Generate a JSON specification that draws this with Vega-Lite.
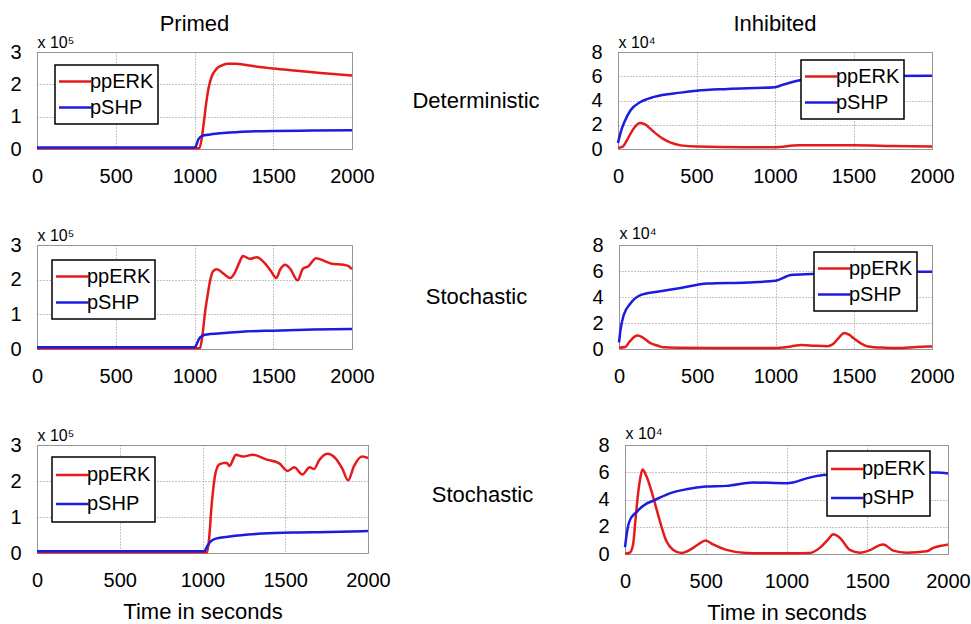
{
  "$schema": "https://vega.github.io/schema/vega-lite/v6.json",
  "padding": {"left": 9, "top": 12, "right": 0, "bottom": 0},
  "background": "white",
  "spacing": 37,
  "config": {
    "font": "Liberation Sans",
    "view": {"stroke": "#9a9a9a", "strokeWidth": 1},
    "axis": {
      "grid": true, "gridDash": [1, 2], "gridColor": "#8a8a8a", "gridOpacity": 1,
      "domain": false, "ticks": false, "format": "d",
      "labelFontSize": 20, "labelColor": "#000", "labelFlush": false, "labelOverlap": false, "labelBound": false,
      "titleColor": "#000", "titleFontWeight": "normal"
    },
    "axisX": {"labelPadding": 17, "titleFontSize": 22, "titlePadding": 11},
    "axisY": {"labelPadding": 16, "titleAngle": 0, "titleAlign": "left", "titleBaseline": "alphabetic", "titleX": 0, "titleY": -5, "titleFontSize": 16},
    "legend": {
      "orient": "none", "symbolType": "stroke", "symbolSize": 1089, "symbolStrokeWidth": 2.5, "symbolOffset": -2,
      "labelFontSize": 20, "labelColor": "#000", "labelOffset": -3, "padding": 4,
      "strokeColor": "#000", "strokeWidth": 1.5, "fillColor": "#fff", "clipHeight": 25, "rowPadding": 1
    },
    "title": {"fontSize": 22, "fontWeight": "normal", "color": "#000", "frame": "group", "offset": -2, "anchor": "middle"}
  },
  "resolve": {"scale": {"color": "independent", "x": "independent", "y": "independent"}, "legend": {"color": "independent"}},
  "data": {"values": [
    {"panel":"A","series":"ppERK","t":0,"v":0.02},{"panel":"A","series":"ppERK","t":1000,"v":0.02},{"panel":"A","series":"ppERK","t":1030,"v":0.02},{"panel":"A","series":"ppERK","t":1045,"v":0.3},{"panel":"A","series":"ppERK","t":1060,"v":0.85},{"panel":"A","series":"ppERK","t":1075,"v":1.45},{"panel":"A","series":"ppERK","t":1090,"v":1.9},{"panel":"A","series":"ppERK","t":1110,"v":2.25},{"panel":"A","series":"ppERK","t":1140,"v":2.48},{"panel":"A","series":"ppERK","t":1170,"v":2.58},{"panel":"A","series":"ppERK","t":1210,"v":2.64},{"panel":"A","series":"ppERK","t":1260,"v":2.64},{"panel":"A","series":"ppERK","t":1350,"v":2.58},{"panel":"A","series":"ppERK","t":1500,"v":2.49},{"panel":"A","series":"ppERK","t":1650,"v":2.42},{"panel":"A","series":"ppERK","t":1800,"v":2.35},{"panel":"A","series":"ppERK","t":2000,"v":2.27},
    {"panel":"A","series":"pSHP","t":0,"v":0.05},{"panel":"A","series":"pSHP","t":1000,"v":0.05},{"panel":"A","series":"pSHP","t":1010,"v":0.1},{"panel":"A","series":"pSHP","t":1025,"v":0.3},{"panel":"A","series":"pSHP","t":1045,"v":0.4},{"panel":"A","series":"pSHP","t":1100,"v":0.45},{"panel":"A","series":"pSHP","t":1200,"v":0.5},{"panel":"A","series":"pSHP","t":1350,"v":0.54},{"panel":"A","series":"pSHP","t":1500,"v":0.56},{"panel":"A","series":"pSHP","t":1750,"v":0.57},{"panel":"A","series":"pSHP","t":2000,"v":0.58},
    {"panel":"B","series":"ppERK","t":0,"v":0.1},{"panel":"B","series":"ppERK","t":30,"v":0.2},{"panel":"B","series":"ppERK","t":60,"v":0.8},{"panel":"B","series":"ppERK","t":100,"v":1.7},{"panel":"B","series":"ppERK","t":140,"v":2.15},{"panel":"B","series":"ppERK","t":170,"v":2.05},{"panel":"B","series":"ppERK","t":220,"v":1.5},{"panel":"B","series":"ppERK","t":280,"v":0.9},{"panel":"B","series":"ppERK","t":340,"v":0.5},{"panel":"B","series":"ppERK","t":400,"v":0.3},{"panel":"B","series":"ppERK","t":500,"v":0.2},{"panel":"B","series":"ppERK","t":800,"v":0.15},{"panel":"B","series":"ppERK","t":1000,"v":0.15},{"panel":"B","series":"ppERK","t":1150,"v":0.3},{"panel":"B","series":"ppERK","t":1500,"v":0.3},{"panel":"B","series":"ppERK","t":1750,"v":0.25},{"panel":"B","series":"ppERK","t":2000,"v":0.2},
    {"panel":"B","series":"pSHP","t":0,"v":0.5},{"panel":"B","series":"pSHP","t":20,"v":1.5},{"panel":"B","series":"pSHP","t":40,"v":2.2},{"panel":"B","series":"pSHP","t":80,"v":3.2},{"panel":"B","series":"pSHP","t":140,"v":3.85},{"panel":"B","series":"pSHP","t":230,"v":4.3},{"panel":"B","series":"pSHP","t":400,"v":4.65},{"panel":"B","series":"pSHP","t":500,"v":4.8},{"panel":"B","series":"pSHP","t":700,"v":4.95},{"panel":"B","series":"pSHP","t":1000,"v":5.1},{"panel":"B","series":"pSHP","t":1050,"v":5.3},{"panel":"B","series":"pSHP","t":1150,"v":5.65},{"panel":"B","series":"pSHP","t":1250,"v":5.9},{"panel":"B","series":"pSHP","t":1400,"v":6.0},{"panel":"B","series":"pSHP","t":1700,"v":6.02},{"panel":"B","series":"pSHP","t":2000,"v":6.05},
    {"panel":"C","series":"ppERK","t":0,"v":0.02},{"panel":"C","series":"ppERK","t":1000,"v":0.02},{"panel":"C","series":"ppERK","t":1035,"v":0.02},{"panel":"C","series":"ppERK","t":1050,"v":0.4},{"panel":"C","series":"ppERK","t":1070,"v":1.16},{"panel":"C","series":"ppERK","t":1085,"v":1.6},{"panel":"C","series":"ppERK","t":1100,"v":1.99},{"panel":"C","series":"ppERK","t":1117,"v":2.24},{"panel":"C","series":"ppERK","t":1142,"v":2.3},{"panel":"C","series":"ppERK","t":1185,"v":2.17},{"panel":"C","series":"ppERK","t":1227,"v":2.05},{"panel":"C","series":"ppERK","t":1258,"v":2.22},{"panel":"C","series":"ppERK","t":1285,"v":2.5},{"panel":"C","series":"ppERK","t":1307,"v":2.68},{"panel":"C","series":"ppERK","t":1354,"v":2.6},{"panel":"C","series":"ppERK","t":1396,"v":2.65},{"panel":"C","series":"ppERK","t":1449,"v":2.46},{"panel":"C","series":"ppERK","t":1485,"v":2.25},{"panel":"C","series":"ppERK","t":1519,"v":2.05},{"panel":"C","series":"ppERK","t":1545,"v":2.3},{"panel":"C","series":"ppERK","t":1576,"v":2.43},{"panel":"C","series":"ppERK","t":1608,"v":2.31},{"panel":"C","series":"ppERK","t":1655,"v":1.98},{"panel":"C","series":"ppERK","t":1688,"v":2.31},{"panel":"C","series":"ppERK","t":1723,"v":2.39},{"panel":"C","series":"ppERK","t":1772,"v":2.62},{"panel":"C","series":"ppERK","t":1819,"v":2.55},{"panel":"C","series":"ppERK","t":1872,"v":2.46},{"panel":"C","series":"ppERK","t":1946,"v":2.43},{"panel":"C","series":"ppERK","t":1975,"v":2.4},{"panel":"C","series":"ppERK","t":2000,"v":2.3},
    {"panel":"C","series":"pSHP","t":0,"v":0.05},{"panel":"C","series":"pSHP","t":1000,"v":0.05},{"panel":"C","series":"pSHP","t":1015,"v":0.15},{"panel":"C","series":"pSHP","t":1030,"v":0.3},{"panel":"C","series":"pSHP","t":1050,"v":0.38},{"panel":"C","series":"pSHP","t":1080,"v":0.42},{"panel":"C","series":"pSHP","t":1150,"v":0.45},{"panel":"C","series":"pSHP","t":1300,"v":0.5},{"panel":"C","series":"pSHP","t":1500,"v":0.53},{"panel":"C","series":"pSHP","t":1750,"v":0.56},{"panel":"C","series":"pSHP","t":2000,"v":0.58},
    {"panel":"D","series":"ppERK","t":0,"v":0.1},{"panel":"D","series":"ppERK","t":40,"v":0.15},{"panel":"D","series":"ppERK","t":70,"v":0.6},{"panel":"D","series":"ppERK","t":100,"v":0.95},{"panel":"D","series":"ppERK","t":120,"v":1.04},{"panel":"D","series":"ppERK","t":150,"v":0.9},{"panel":"D","series":"ppERK","t":201,"v":0.45},{"panel":"D","series":"ppERK","t":250,"v":0.25},{"panel":"D","series":"ppERK","t":286,"v":0.13},{"panel":"D","series":"ppERK","t":400,"v":0.1},{"panel":"D","series":"ppERK","t":600,"v":0.08},{"panel":"D","series":"ppERK","t":1000,"v":0.08},{"panel":"D","series":"ppERK","t":1100,"v":0.2},{"panel":"D","series":"ppERK","t":1163,"v":0.3},{"panel":"D","series":"ppERK","t":1250,"v":0.25},{"panel":"D","series":"ppERK","t":1333,"v":0.22},{"panel":"D","series":"ppERK","t":1370,"v":0.4},{"panel":"D","series":"ppERK","t":1400,"v":0.8},{"panel":"D","series":"ppERK","t":1440,"v":1.24},{"panel":"D","series":"ppERK","t":1470,"v":1.1},{"panel":"D","series":"ppERK","t":1504,"v":0.78},{"panel":"D","series":"ppERK","t":1550,"v":0.4},{"panel":"D","series":"ppERK","t":1590,"v":0.2},{"panel":"D","series":"ppERK","t":1700,"v":0.1},{"panel":"D","series":"ppERK","t":1780,"v":0.07},{"panel":"D","series":"ppERK","t":1900,"v":0.15},{"panel":"D","series":"ppERK","t":2000,"v":0.2},
    {"panel":"D","series":"pSHP","t":0,"v":0.5},{"panel":"D","series":"pSHP","t":10,"v":1.5},{"panel":"D","series":"pSHP","t":30,"v":2.6},{"panel":"D","series":"pSHP","t":73,"v":3.5},{"panel":"D","series":"pSHP","t":137,"v":4.14},{"panel":"D","series":"pSHP","t":244,"v":4.4},{"panel":"D","series":"pSHP","t":394,"v":4.7},{"panel":"D","series":"pSHP","t":564,"v":5.04},{"panel":"D","series":"pSHP","t":821,"v":5.12},{"panel":"D","series":"pSHP","t":1000,"v":5.25},{"panel":"D","series":"pSHP","t":1099,"v":5.69},{"panel":"D","series":"pSHP","t":1227,"v":5.77},{"panel":"D","series":"pSHP","t":1400,"v":5.85},{"panel":"D","series":"pSHP","t":1700,"v":5.95},{"panel":"D","series":"pSHP","t":2000,"v":5.95},
    {"panel":"E","series":"ppERK","t":0,"v":0.02},{"panel":"E","series":"ppERK","t":1000,"v":0.02},{"panel":"E","series":"ppERK","t":1028,"v":0.02},{"panel":"E","series":"ppERK","t":1040,"v":0.4},{"panel":"E","series":"ppERK","t":1054,"v":1.26},{"panel":"E","series":"ppERK","t":1068,"v":1.9},{"panel":"E","series":"ppERK","t":1080,"v":2.25},{"panel":"E","series":"ppERK","t":1104,"v":2.47},{"panel":"E","series":"ppERK","t":1144,"v":2.51},{"panel":"E","series":"ppERK","t":1164,"v":2.42},{"panel":"E","series":"ppERK","t":1185,"v":2.6},{"panel":"E","series":"ppERK","t":1200,"v":2.73},{"panel":"E","series":"ppERK","t":1244,"v":2.68},{"panel":"E","series":"ppERK","t":1304,"v":2.73},{"panel":"E","series":"ppERK","t":1384,"v":2.6},{"panel":"E","series":"ppERK","t":1464,"v":2.49},{"panel":"E","series":"ppERK","t":1514,"v":2.28},{"panel":"E","series":"ppERK","t":1554,"v":2.38},{"panel":"E","series":"ppERK","t":1604,"v":2.18},{"panel":"E","series":"ppERK","t":1648,"v":2.38},{"panel":"E","series":"ppERK","t":1674,"v":2.33},{"panel":"E","series":"ppERK","t":1704,"v":2.57},{"panel":"E","series":"ppERK","t":1754,"v":2.76},{"panel":"E","series":"ppERK","t":1804,"v":2.63},{"panel":"E","series":"ppERK","t":1844,"v":2.35},{"panel":"E","series":"ppERK","t":1880,"v":2.02},{"panel":"E","series":"ppERK","t":1914,"v":2.4},{"panel":"E","series":"ppERK","t":1964,"v":2.68},{"panel":"E","series":"ppERK","t":2000,"v":2.64},
    {"panel":"E","series":"pSHP","t":0,"v":0.05},{"panel":"E","series":"pSHP","t":1010,"v":0.05},{"panel":"E","series":"pSHP","t":1030,"v":0.2},{"panel":"E","series":"pSHP","t":1050,"v":0.32},{"panel":"E","series":"pSHP","t":1080,"v":0.4},{"panel":"E","series":"pSHP","t":1164,"v":0.46},{"panel":"E","series":"pSHP","t":1364,"v":0.54},{"panel":"E","series":"pSHP","t":1564,"v":0.57},{"panel":"E","series":"pSHP","t":1764,"v":0.58},{"panel":"E","series":"pSHP","t":2000,"v":0.61},
    {"panel":"F","series":"ppERK","t":0,"v":0.02},{"panel":"F","series":"ppERK","t":30,"v":0.1},{"panel":"F","series":"ppERK","t":50,"v":0.7},{"panel":"F","series":"ppERK","t":65,"v":2.5},{"panel":"F","series":"ppERK","t":81,"v":4.45},{"panel":"F","series":"ppERK","t":95,"v":5.6},{"panel":"F","series":"ppERK","t":108,"v":6.2},{"panel":"F","series":"ppERK","t":133,"v":5.7},{"panel":"F","series":"ppERK","t":174,"v":4.2},{"panel":"F","series":"ppERK","t":215,"v":2.45},{"panel":"F","series":"ppERK","t":256,"v":0.95},{"panel":"F","series":"ppERK","t":297,"v":0.32},{"panel":"F","series":"ppERK","t":349,"v":0.08},{"panel":"F","series":"ppERK","t":401,"v":0.3},{"panel":"F","series":"ppERK","t":452,"v":0.7},{"panel":"F","series":"ppERK","t":500,"v":1.0},{"panel":"F","series":"ppERK","t":545,"v":0.7},{"panel":"F","series":"ppERK","t":628,"v":0.3},{"panel":"F","series":"ppERK","t":752,"v":0.08},{"panel":"F","series":"ppERK","t":1000,"v":0.05},{"panel":"F","series":"ppERK","t":1144,"v":0.08},{"panel":"F","series":"ppERK","t":1206,"v":0.45},{"panel":"F","series":"ppERK","t":1260,"v":1.1},{"panel":"F","series":"ppERK","t":1289,"v":1.45},{"panel":"F","series":"ppERK","t":1330,"v":1.2},{"panel":"F","series":"ppERK","t":1392,"v":0.3},{"panel":"F","series":"ppERK","t":1454,"v":0.1},{"panel":"F","series":"ppERK","t":1520,"v":0.3},{"panel":"F","series":"ppERK","t":1567,"v":0.6},{"panel":"F","series":"ppERK","t":1599,"v":0.7},{"panel":"F","series":"ppERK","t":1661,"v":0.25},{"panel":"F","series":"ppERK","t":1744,"v":0.1},{"panel":"F","series":"ppERK","t":1868,"v":0.2},{"panel":"F","series":"ppERK","t":1909,"v":0.45},{"panel":"F","series":"ppERK","t":1981,"v":0.65},{"panel":"F","series":"ppERK","t":2000,"v":0.7},
    {"panel":"F","series":"pSHP","t":0,"v":0.5},{"panel":"F","series":"pSHP","t":15,"v":1.8},{"panel":"F","series":"pSHP","t":29,"v":2.45},{"panel":"F","series":"pSHP","t":71,"v":3.08},{"panel":"F","series":"pSHP","t":133,"v":3.7},{"panel":"F","series":"pSHP","t":174,"v":3.9},{"panel":"F","series":"pSHP","t":277,"v":4.45},{"panel":"F","series":"pSHP","t":380,"v":4.75},{"panel":"F","series":"pSHP","t":500,"v":4.95},{"panel":"F","series":"pSHP","t":628,"v":5.0},{"panel":"F","series":"pSHP","t":793,"v":5.25},{"panel":"F","series":"pSHP","t":1000,"v":5.2},{"panel":"F","series":"pSHP","t":1041,"v":5.25},{"panel":"F","series":"pSHP","t":1124,"v":5.55},{"panel":"F","series":"pSHP","t":1227,"v":5.8},{"panel":"F","series":"pSHP","t":1400,"v":5.9},{"panel":"F","series":"pSHP","t":1700,"v":5.95},{"panel":"F","series":"pSHP","t":1929,"v":5.98},{"panel":"F","series":"pSHP","t":2000,"v":5.9}
  ]},
  "vconcat": [
    {
      "bounds": "flush", "spacing": 40,
      "resolve": {"scale": {"color": "independent", "x": "independent", "y": "independent"}, "legend": {"color": "independent"}},
      "hconcat": [
        {
          "width": 315, "height": 97,
          "title": {"text": "Primed"},
          "transform": [{"filter": "datum.panel == 'A'"}],
          "mark": {"type": "line", "strokeWidth": 2.5, "interpolate": "monotone"},
          "encoding": {
            "x": {"field": "t", "type": "quantitative", "scale": {"domain": [0, 2000], "nice": false}, "axis": {"values": [0, 500, 1000, 1500, 2000], "title": null}},
            "y": {"field": "v", "type": "quantitative", "scale": {"domain": [0, 3], "nice": false}, "axis": {"values": [0, 1, 2, 3], "title": "x 10⁵"}},
            "color": {"field": "series", "type": "nominal", "scale": {"domain": ["ppERK", "pSHP"], "range": ["#e51b1b", "#1c1ce0"]}, "legend": {"title": null, "legendX": 18, "legendY": 13}}
          }
        },
        {
          "width": 186, "height": 97, "view": {"stroke": null},
          "data": {"values": [{"label": "Deterministic"}]},
          "mark": {"type": "text", "fontSize": 22, "dx": -9},
          "encoding": {"text": {"field": "label"}}
        },
        {
          "width": 314, "height": 97,
          "title": {"text": "Inhibited"},
          "transform": [{"filter": "datum.panel == 'B'"}],
          "mark": {"type": "line", "strokeWidth": 2.5, "interpolate": "monotone"},
          "encoding": {
            "x": {"field": "t", "type": "quantitative", "scale": {"domain": [0, 2000], "nice": false}, "axis": {"values": [0, 500, 1000, 1500, 2000], "title": null}},
            "y": {"field": "v", "type": "quantitative", "scale": {"domain": [0, 8], "nice": false}, "axis": {"values": [0, 2, 4, 6, 8], "title": "x 10⁴"}},
            "color": {"field": "series", "type": "nominal", "scale": {"domain": ["ppERK", "pSHP"], "range": ["#e51b1b", "#1c1ce0"]}, "legend": {"title": null, "legendX": 183, "legendY": 8}}
          }
        }
      ]
    },
    {
      "bounds": "flush", "spacing": 40,
      "resolve": {"scale": {"color": "independent", "x": "independent", "y": "independent"}, "legend": {"color": "independent"}},
      "hconcat": [
        {
          "width": 315, "height": 104,
          "transform": [{"filter": "datum.panel == 'C'"}],
          "mark": {"type": "line", "strokeWidth": 2.5, "interpolate": "monotone"},
          "encoding": {
            "x": {"field": "t", "type": "quantitative", "scale": {"domain": [0, 2000], "nice": false}, "axis": {"values": [0, 500, 1000, 1500, 2000], "title": null}},
            "y": {"field": "v", "type": "quantitative", "scale": {"domain": [0, 3], "nice": false}, "axis": {"values": [0, 1, 2, 3], "title": "x 10⁵"}},
            "color": {"field": "series", "type": "nominal", "scale": {"domain": ["ppERK", "pSHP"], "range": ["#e51b1b", "#1c1ce0"]}, "legend": {"title": null, "legendX": 15, "legendY": 15}}
          }
        },
        {
          "width": 187, "height": 104, "view": {"stroke": null},
          "data": {"values": [{"label": "Stochastic"}]},
          "mark": {"type": "text", "fontSize": 22, "dx": -9},
          "encoding": {"text": {"field": "label"}}
        },
        {
          "width": 313, "height": 104,
          "transform": [{"filter": "datum.panel == 'D'"}],
          "mark": {"type": "line", "strokeWidth": 2.5, "interpolate": "monotone"},
          "encoding": {
            "x": {"field": "t", "type": "quantitative", "scale": {"domain": [0, 2000], "nice": false}, "axis": {"values": [0, 500, 1000, 1500, 2000], "title": null}},
            "y": {"field": "v", "type": "quantitative", "scale": {"domain": [0, 8], "nice": false}, "axis": {"values": [0, 2, 4, 6, 8], "title": "x 10⁴", "titleY": -7}},
            "color": {"field": "series", "type": "nominal", "scale": {"domain": ["ppERK", "pSHP"], "range": ["#e51b1b", "#1c1ce0"]}, "legend": {"title": null, "legendX": 195, "legendY": 7}}
          }
        }
      ]
    },
    {
      "bounds": "flush", "spacing": 40,
      "resolve": {"scale": {"color": "independent", "x": "independent", "y": "independent"}, "legend": {"color": "independent"}},
      "hconcat": [
        {
          "width": 331, "height": 108,
          "transform": [{"filter": "datum.panel == 'E'"}],
          "mark": {"type": "line", "strokeWidth": 2.5, "interpolate": "monotone"},
          "encoding": {
            "x": {"field": "t", "type": "quantitative", "scale": {"domain": [0, 2000], "nice": false}, "axis": {"values": [0, 500, 1000, 1500, 2000], "title": "Time in seconds"}},
            "y": {"field": "v", "type": "quantitative", "scale": {"domain": [0, 3], "nice": false}, "axis": {"values": [0, 1, 2, 3], "title": "x 10⁵"}},
            "color": {"field": "series", "type": "nominal", "scale": {"domain": ["ppERK", "pSHP"], "range": ["#e51b1b", "#1c1ce0"]}, "legend": {"title": null, "legendX": 15, "legendY": 12, "clipHeight": 28}}
          }
        },
        {
          "width": 177, "height": 108, "view": {"stroke": null},
          "data": {"values": [{"label": "Stochastic"}]},
          "mark": {"type": "text", "fontSize": 22, "dx": -14, "dy": -4},
          "encoding": {"text": {"field": "label"}}
        },
        {
          "width": 323, "height": 109,
          "transform": [{"filter": "datum.panel == 'F'"}],
          "mark": {"type": "line", "strokeWidth": 2.5, "interpolate": "monotone"},
          "encoding": {
            "x": {"field": "t", "type": "quantitative", "scale": {"domain": [0, 2000], "nice": false}, "axis": {"values": [0, 500, 1000, 1500, 2000], "title": "Time in seconds"}},
            "y": {"field": "v", "type": "quantitative", "scale": {"domain": [0, 8], "nice": false}, "axis": {"values": [0, 2, 4, 6, 8], "title": "x 10⁴", "titleY": -7}},
            "color": {"field": "series", "type": "nominal", "scale": {"domain": ["ppERK", "pSHP"], "range": ["#e51b1b", "#1c1ce0"]}, "legend": {"title": null, "legendX": 202, "legendY": 6, "clipHeight": 28}}
          }
        }
      ]
    }
  ]
}
